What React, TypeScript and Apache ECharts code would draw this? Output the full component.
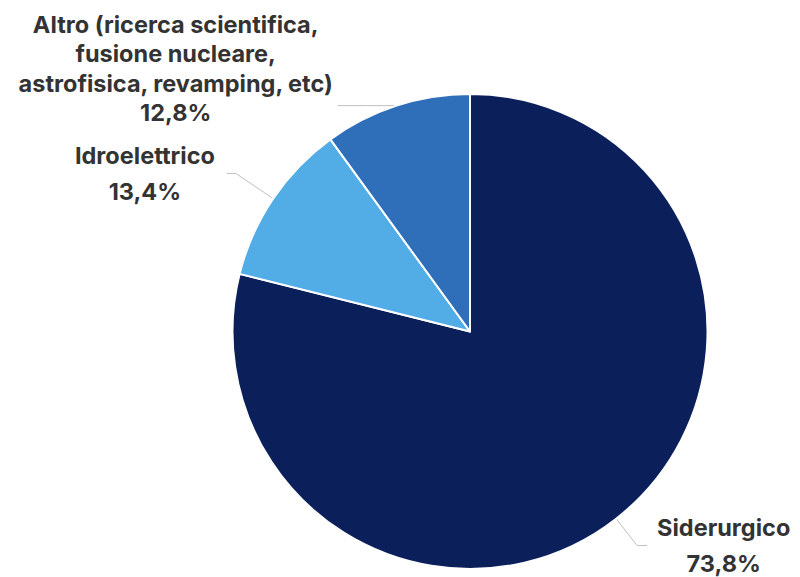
import React, { useEffect, useRef } from "react";
import * as echarts from "echarts";

const categories = [
  "Siderurgico",
  "Idroelettrico",
  "Altro (ricerca scientifica,\nfusione nucleare,\nastrofisica, revamping, etc)",
];
// slice sizes as drawn in the picture
const sliceValues = [78.9, 11.1, 10.0];
// percentages printed in the labels
const labelPercents = ["73,8%", "13,4%", "12,8%"];
const colors = ["#0B1F5B", "#52ACE6", "#2F6EB9"];

export default function App() {
  const ref = useRef<HTMLDivElement>(null);
  useEffect(() => {
    if (!ref.current) return;
    const chart = echarts.init(ref.current, null, { renderer: "svg" });
    const font = "Inter, 'Noto Sans', sans-serif";
    const fontSize = 23.5;
    const labelLines = [
      { length: 34, length2: 10 },
      { length: 45, length2: 9 },
      { length: 20, length2: 10 },
    ];
    const lineHeights = [36, 36, 29.5];
    chart.setOption({
      animation: false,
      series: [
        {
          type: "pie",
          center: [470, 331.5],
          radius: 237.5,
          startAngle: 90,
          clockwise: true,
          avoidLabelOverlap: false,
          itemStyle: { borderColor: "#ffffff", borderWidth: 2 },
          label: {
            show: true,
            position: "outside",
            distanceToLabelLine: 10,
            color: "#333333",
            fontFamily: font,
            fontWeight: 700,
            fontSize,
          },
          labelLine: {
            show: true,
            lineStyle: { color: "#BFBFBF", width: 1 },
          },
          labelLayout: (params: any) => {
            if (params.dataIndex !== 2) return {};
            const p0 = params.labelLinePoints[0];
            return {
              x: p0[0] - 63,
              y: p0[1] - 37,
              align: "right",
              verticalAlign: "middle",
              labelLinePoints: [
                [p0[0], p0[1]],
                [p0[0] - 30, p0[1]],
                [p0[0] - 59, p0[1]],
              ],
            };
          },
          data: categories.map((name, i) => ({
            name,
            value: sliceValues[i],
            itemStyle: { color: colors[i] },
            labelLine: labelLines[i],
            label: {
              distanceToLabelLine: i === 1 ? 12 : 10,
              formatter: () => `{n|${name}}\n{v|${labelPercents[i]}}`,
              rich: {
                n: {
                  align: "center",
                  lineHeight: lineHeights[i],
                  fontFamily: font,
                  fontWeight: 700,
                  fontSize,
                  color: "#333333",
                },
                v: {
                  align: "center",
                  lineHeight: lineHeights[i],
                  fontFamily: font,
                  fontWeight: 700,
                  fontSize,
                  color: "#333333",
                },
              },
            },
          })),
        },
      ],
    });
    return () => chart.dispose();
  }, []);
  return (
    <div
      ref={ref}
      style={{ position: "fixed", left: 0, top: 0, width: 800, height: 577, background: "#ffffff" }}
    />
  );
}
